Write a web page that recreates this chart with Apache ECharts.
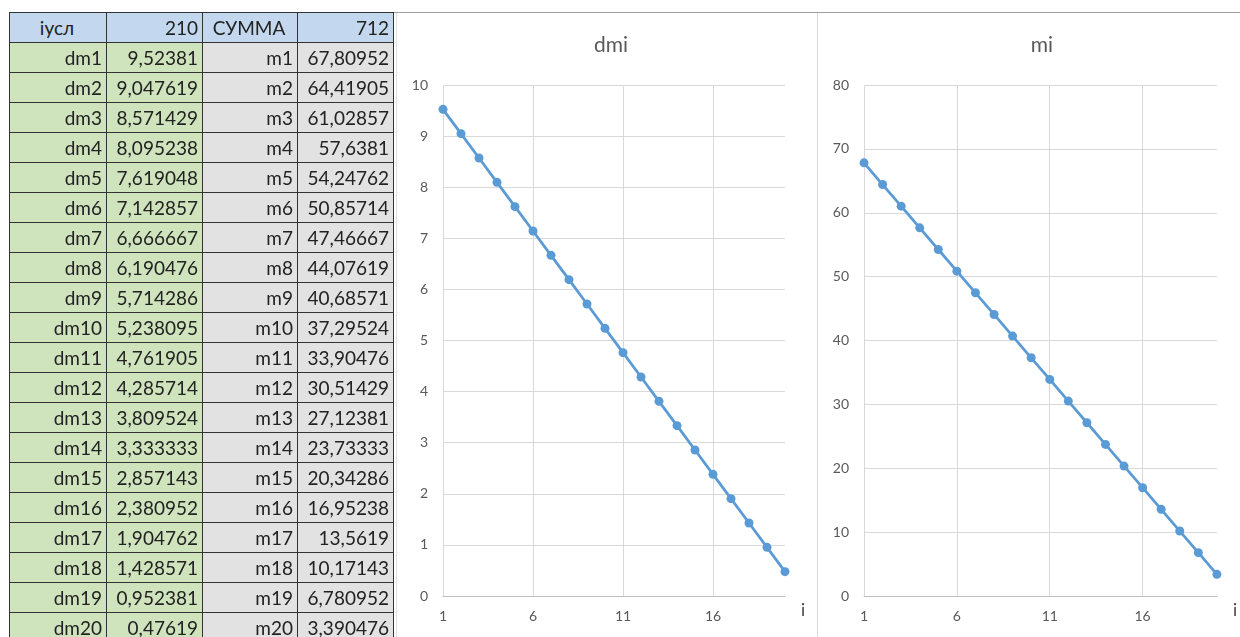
<!DOCTYPE html>
<html><head><meta charset="utf-8">
<script src="https://cdn.jsdelivr.net/npm/echarts@6/dist/echarts.min.js"></script>
<style>
html,body{margin:0;padding:0;background:#fff;overflow:hidden;}
#chart{position:absolute;left:0;top:0;width:1240px;height:637px;}
#tbl{position:absolute;left:9px;top:12px;border-collapse:collapse;table-layout:fixed;width:384px;font-family:Lato,'Open Sans',sans-serif;font-size:19px;color:#222;}
#tbl td{border:1px solid #333;height:29px;padding:0 4px 0 2px;text-align:right;line-height:29px;white-space:nowrap;overflow:hidden;}
#tbl tr.hdr td{background:#c3d8ee;}
#tbl td.g{background:#cfe3bd;}
#tbl td.s{background:#e2e2e2;}
#tbl td.c{text-align:center;}
</style></head><body>
<div id="chart"></div>
<table id="tbl"><colgroup><col style="width:97px"><col style="width:96px"><col style="width:95px"><col style="width:96px"></colgroup><tbody id="tb"></tbody></table>
<script>
const headerLabels = ['iусл', '210', 'СУММА', '712'];
const iLabels = ['1','2','3','4','5','6','7','8','9','10','11','12','13','14','15','16','17','18','19','20'];
const dmNames = ['dm1','dm2','dm3','dm4','dm5','dm6','dm7','dm8','dm9','dm10','dm11','dm12','dm13','dm14','dm15','dm16','dm17','dm18','dm19','dm20'];
const mNames = ['m1','m2','m3','m4','m5','m6','m7','m8','m9','m10','m11','m12','m13','m14','m15','m16','m17','m18','m19','m20'];
const dmValues = [9.52381, 9.047619, 8.571429, 8.095238, 7.619048, 7.142857, 6.666667, 6.190476, 5.714286, 5.238095, 4.761905, 4.285714, 3.809524, 3.333333, 2.857143, 2.380952, 1.904762, 1.428571, 0.952381, 0.47619];
const mValues = [67.80952, 64.41905, 61.02857, 57.6381, 54.24762, 50.85714, 47.46667, 44.07619, 40.68571, 37.29524, 33.90476, 30.51429, 27.12381, 23.73333, 20.34286, 16.95238, 13.5619, 10.17143, 6.780952, 3.390476];

// table
const fmt = v => String(v).replace('.', ',');
let html = '<tr class="hdr"><td class="c">' + headerLabels[0] + '</td><td>' + headerLabels[1] + '</td><td class="c">' + headerLabels[2] + '</td><td>' + headerLabels[3] + '</td></tr>';
for (let k = 0; k < dmNames.length; k++) {
  html += '<tr><td class="g">' + dmNames[k] + '</td><td class="g">' + fmt(dmValues[k]) + '</td><td class="s">' + mNames[k] + '</td><td class="s">' + fmt(mValues[k]) + '</td></tr>';
}
document.getElementById('tb').innerHTML = html;

const FONT = 'Lato, "Open Sans", sans-serif';
const txt = '#595959';
const grid = '#d9d9d9';
const chart = echarts.init(document.getElementById('chart'));
function xAx(gi) {
  return {
    gridIndex: gi, type: 'category', data: iLabels, boundaryGap: false,
    axisLine: { lineStyle: { color: '#bfbfbf', width: 1 } },
    axisTick: { show: false },
    axisLabel: { interval: 4, color: txt, fontSize: 14, fontFamily: FONT, margin: 13 },
    splitLine: { show: true, interval: 4, lineStyle: { color: grid } },
    name: 'i', nameLocation: 'end', nameGap: 16,
    nameTextStyle: { color: '#404040', fontSize: 17, fontFamily: FONT, verticalAlign: 'top', padding: [6, 0, 0, 0] }
  };
}
function yAx(gi, max, interval) {
  return {
    gridIndex: gi, type: 'value', min: 0, max: max, interval: interval,
    axisLine: { show: false }, axisTick: { show: false },
    axisLabel: { color: txt, fontSize: 14, fontFamily: FONT, margin: 15 },
    splitLine: { lineStyle: { color: grid } }
  };
}
function ser(idx, data) {
  return {
    type: 'line', xAxisIndex: idx, yAxisIndex: idx, data: data,
    symbol: 'circle', symbolSize: 9,
    lineStyle: { color: '#5b9bd5', width: 2.75 },
    itemStyle: { color: '#5b9bd5' }
  };
}
chart.setOption({
  animation: false,
  title: [
    { text: 'dmi', left: 606, top: 30, textAlign: 'center', textStyle: { fontFamily: FONT, fontSize: 21, fontWeight: 'normal', color: txt } },
    { text: 'mi', left: 1037, top: 30, textAlign: 'center', textStyle: { fontFamily: FONT, fontSize: 21, fontWeight: 'normal', color: txt } }
  ],
  grid: [
    { left: 443, top: 85, width: 342, height: 511 },
    { left: 864, top: 85, width: 359, height: 511 }
  ],
  xAxis: [xAx(0), xAx(1)],
  yAxis: [yAx(0, 10, 1), yAx(1, 80, 10)],
  series: [ser(0, dmValues), ser(1, mValues)],
  graphic: [
    { type: 'line', shape: { x1: 392, y1: 12.5, x2: 1240, y2: 12.5 }, style: { stroke: '#a0a0a0', lineWidth: 1 } },
    { type: 'line', shape: { x1: 396.5, y1: 13, x2: 396.5, y2: 637 }, style: { stroke: '#e0e0e0', lineWidth: 1 } },
    { type: 'line', shape: { x1: 817.5, y1: 13, x2: 817.5, y2: 637 }, style: { stroke: '#d9d9d9', lineWidth: 1 } }
  ]
});
</script>
</body></html>
